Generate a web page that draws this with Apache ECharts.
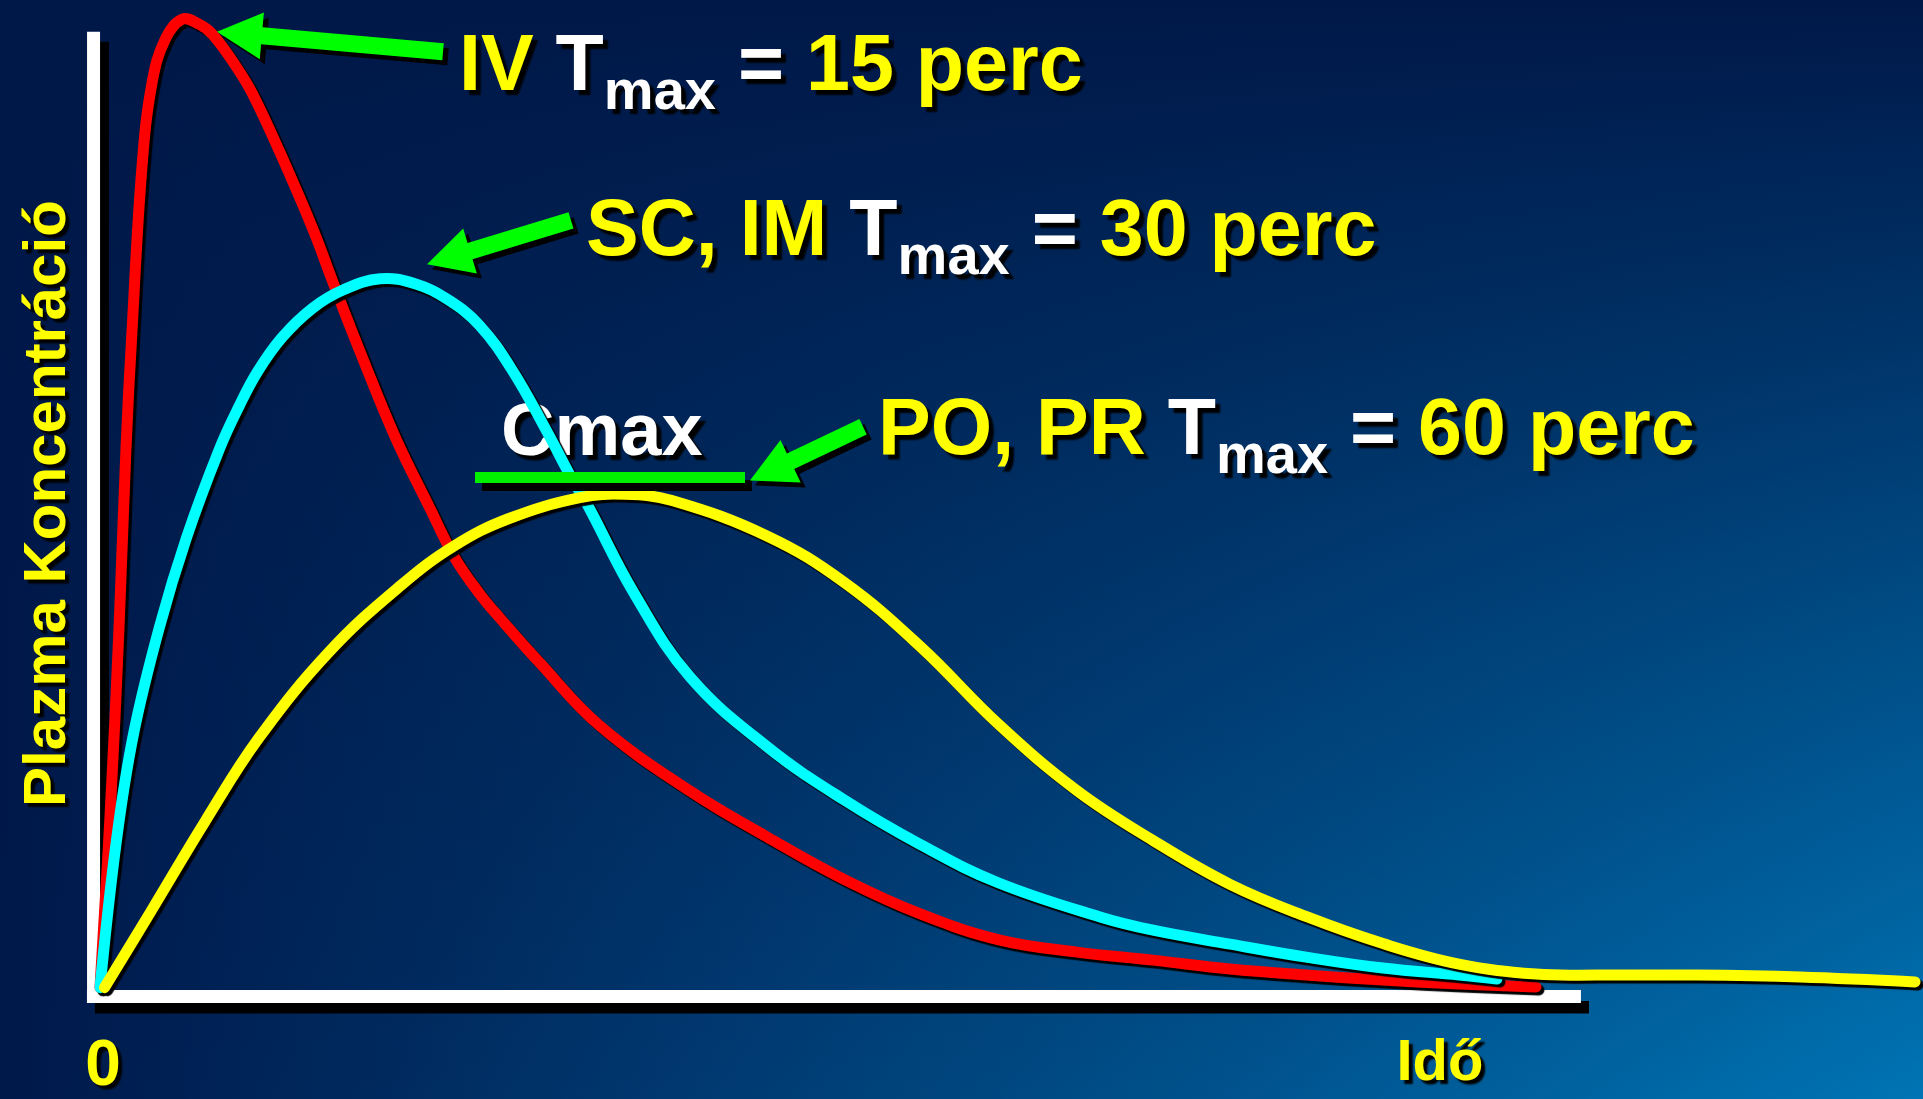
<!DOCTYPE html>
<html><head><meta charset="utf-8">
<script src="https://cdn.jsdelivr.net/npm/echarts@6/dist/echarts.min.js"></script>
<style>html,body{margin:0;padding:0;background:#001848;overflow:hidden}#c{width:1923px;height:1099px}</style>
</head><body><div id="c"></div>
<script>
// ---- data (time units, concentration units) ----
const ivData = [[0,0],[0.67,17.77],[1.27,37.23],[1.73,55.66],[2.13,67.71],[2.8,84.81],[3.47,93.46],[4.33,97.88],[5.47,100.0],[6.6,99.5],[7.53,98.4],[9.13,95.0],[10.2,92.22],[12,86.24],[14.2,78.31],[15.53,72.86],[17.53,64.93],[19.67,56.9],[22,49.49],[23.67,44.34],[25.33,40.63],[26.67,38.15],[29.33,33.52],[33.33,27.03],[39.4,20.24],[44.53,15.51],[49.6,11.18],[54.73,7.58],[60,4.9],[65.13,3.67],[70.2,2.84],[75.33,1.92],[80.4,1.3],[85.53,0.78],[90.6,0.37],[95.73,0.06]];
const scImData = [[0,0],[1.1,15.24],[2.24,26.23],[3.96,37.22],[5.76,46.44],[7.97,55.66],[9.28,60.07],[10.5,63.61],[12.14,67.15],[14.18,70.18],[16.23,72.07],[18.68,73.21],[21,72.7],[23.2,71.05],[25.3,68.4],[27.51,63.7],[29.8,57.42],[31.35,52.88],[32.5,49.85],[35.6,40.75],[39.36,32.04],[44.51,24.84],[49.58,19.41],[54.73,14.74],[59.88,10.83],[66.67,7.3],[70.2,5.93],[75.33,4.49],[80.4,3.15],[85.53,2.02],[90.6,1.3],[93.13,0.89]];
const poPrData = [[0.3,0],[3.4,7.89],[7,17.15],[10.6,25.8],[15.33,34.76],[20.07,41.55],[23.67,45.67],[27.27,48.45],[32,50.6],[35,50.95],[38.13,50.3],[44.53,46.6],[49.6,41.87],[54.73,35.17],[59.87,27.25],[65.13,20.35],[70.2,15.2],[75.33,10.67],[80.4,7.35],[85.53,4.55],[90.6,2.43],[95.73,1.4],[100,1.3],[106.47,1.3],[113.33,1.09],[121,0.58]];
const cmaxLine = [[25,52.68],[43,52.68]];
const yAxisBar = [[-0.43,-1.59],[-0.43,98.71]];
const xAxisBar = [[-0.87,-0.92],[98.73,-0.92]];
const arrows = [ // [tail, tip]
  [[22.87,96.65],[7.8,98.71]],
  [[31.4,79.25],[21.8,74.72]],
  [[50.87,57.93],[43.33,52.37]]
];
const xTickValues = [0.2, 89.33];
const xTickLabels = ['0', 'Idő'];
const yAxisTitle = 'Plazma Koncentráció';
const annotations = [ // [x, baseline, parts: [text, color, isSub]]
  [459, 96, [['IV ','#ffff00',0],['T','#ffffff',0],['max','#ffffff',1],[' = ','#ffffff',0],['15 perc','#ffff00',0]]],
  [586, 261, [['SC, IM ','#ffff00',0],['T','#ffffff',0],['max','#ffffff',1],[' = ','#ffffff',0],['30 perc','#ffff00',0]]],
  [878, 460, [['PO, PR ','#ffff00',0],['T','#ffffff',0],['max','#ffffff',1],[' = ','#ffffff',0],['60 perc','#ffff00',0]]],
];
const cmaxLabel = 'Cmax';

// ---- chart ----
const FONT = '"Liberation Sans", Arial, Helvetica, sans-serif';
const chart = echarts.init(document.getElementById('c'));
function curve(name, data, color, z) {
  return {type:'custom', name, data, z, silent:true, coordinateSystem:'cartesian2d', encode:{x:0,y:1},
    renderItem:(params, api)=>{
      if (params.dataIndex !== 0) return null;
      const pts = data.map(p=>api.coord(p));
      return {type:'polyline', shape:{points:pts, smooth:0.4},
        style:{fill:null, stroke:color, lineWidth:11, lineCap:'round', lineJoin:'round',
               shadowColor:'#000', shadowBlur:1, shadowOffsetX:3, shadowOffsetY:3}};
    }};
}
function bar(data, color, width, sx, sy, z) {
  return {type:'line', data, z, symbol:'none', silent:true,
    lineStyle:{color, width, cap:'butt', shadowColor:'#000', shadowBlur:0, shadowOffsetX:sx, shadowOffsetY:sy}};
}
const shadowTxt = {textShadowColor:'#000', textShadowBlur:2, textShadowOffsetX:4, textShadowOffsetY:4};
chart.setOption({
  animation:false,
  backgroundColor:{type:'linear',x:0,y:0,x2:1,y2:0,colorStops:[{offset:0,color:'#00184a'},{offset:1,color:'#0074b4'}]},
  grid:{left:70,right:8,top:0,bottom:89},
  xAxis:{type:'value',min:-2,max:121,axisLine:{show:false},axisTick:{show:false},splitLine:{show:false},
    axisLabel:{customValues:xTickValues, margin:28,
      formatter:(v)=>{let i=0,b=1e9;xTickValues.forEach((t,k)=>{if(Math.abs(t-v)<b){b=Math.abs(t-v);i=k;}});return (i===0?'{a|':'{b|')+xTickLabels[i]+'}';},
      rich:{a:Object.assign({fontSize:64,fontWeight:'bold',fontFamily:FONT,color:'#ffff00'},shadowTxt),
            b:Object.assign({fontSize:58,fontWeight:'bold',fontFamily:FONT,color:'#ffff00'},shadowTxt)}}},
  yAxis:{type:'value',min:-2,max:102,axisLine:{show:false},axisTick:{show:false},splitLine:{show:false},axisLabel:{show:false},
    name:yAxisTitle,nameLocation:'middle',nameRotate:90,nameGap:-8,
    nameTextStyle:Object.assign({fontSize:60,fontWeight:'bold',fontFamily:FONT,color:'#ffff00'},shadowTxt)},
  series:[
    bar(yAxisBar,'#ffffff',13,9,10,1),
    bar(xAxisBar,'#ffffff',13,8,11,1),
    curve('IV',ivData,'#ff0000',3),
    curve('SC, IM',scImData,'#00ffff',4),
    curve('PO, PR',poPrData,'#ffff00',5),
    bar(cmaxLine,'#00f000',11,7,8,6)
  ]
});

// ---- decorations: background shading, arrows, annotation texts ----
const g = [];
g.push({type:'rect',z:-10,silent:true,shape:{x:0,y:0,width:1923,height:1099},
  style:{fill:{type:'linear',x:0,y:0,x2:0,y2:1,colorStops:[{offset:0,color:'rgba(0,24,72,1)'},{offset:1,color:'rgba(0,24,72,0)'}]}}});
arrows.forEach(([tail,tip])=>{
  const a = chart.convertToPixel({gridIndex:0}, tail);
  const b = chart.convertToPixel({gridIndex:0}, tip);
  const dx=b[0]-a[0], dy=b[1]-a[1], L=Math.hypot(dx,dy), ux=dx/L, uy=dy/L, nx=-uy, ny=ux;
  const HL=45, HW=47, SW=17;
  const bx=b[0]-ux*HL, by=b[1]-uy*HL;
  const pts=[[a[0]+nx*SW/2,a[1]+ny*SW/2],[bx+nx*SW/2,by+ny*SW/2],[bx+nx*HW/2,by+ny*HW/2],b,
             [bx-nx*HW/2,by-ny*HW/2],[bx-nx*SW/2,by-ny*SW/2],[a[0]-nx*SW/2,a[1]-ny*SW/2]];
  g.push({type:'polygon',z:20,silent:true,shape:{points:pts},
    style:{fill:'#00ff00',shadowColor:'#000',shadowBlur:0,shadowOffsetX:5,shadowOffsetY:5}});
});
const MAIN=79, SUB=56, SUBDROP=17, MID=0.35;
const cv=document.createElement('canvas').getContext('2d');
function w(t,s){cv.font='bold '+s+'px '+FONT;return cv.measureText(t).width;}
function txt(x,base,t,color,size){
  return {type:'text',z:1,silent:true,style:Object.assign({text:t,x:x,y:base-MID*size,fill:color,
    font:'bold '+size+'px '+FONT,textAlign:'left',textVerticalAlign:'middle',verticalAlign:'middle'},
    {textShadowColor:'#000',textShadowBlur:2,textShadowOffsetX:5,textShadowOffsetY:5})};
}
annotations.forEach(([x,base,parts])=>{
  let cx=x;
  parts.forEach(([t,color,sub])=>{
    const s=sub?SUB:MAIN;
    g.push(txt(cx, sub?base+SUBDROP:base, t, color, s));
    cx+=w(t,s);
  });
});
g.push(txt(501,460,cmaxLabel,'#ffffff',74));
chart.setOption({graphic:g});
</script></body></html>
